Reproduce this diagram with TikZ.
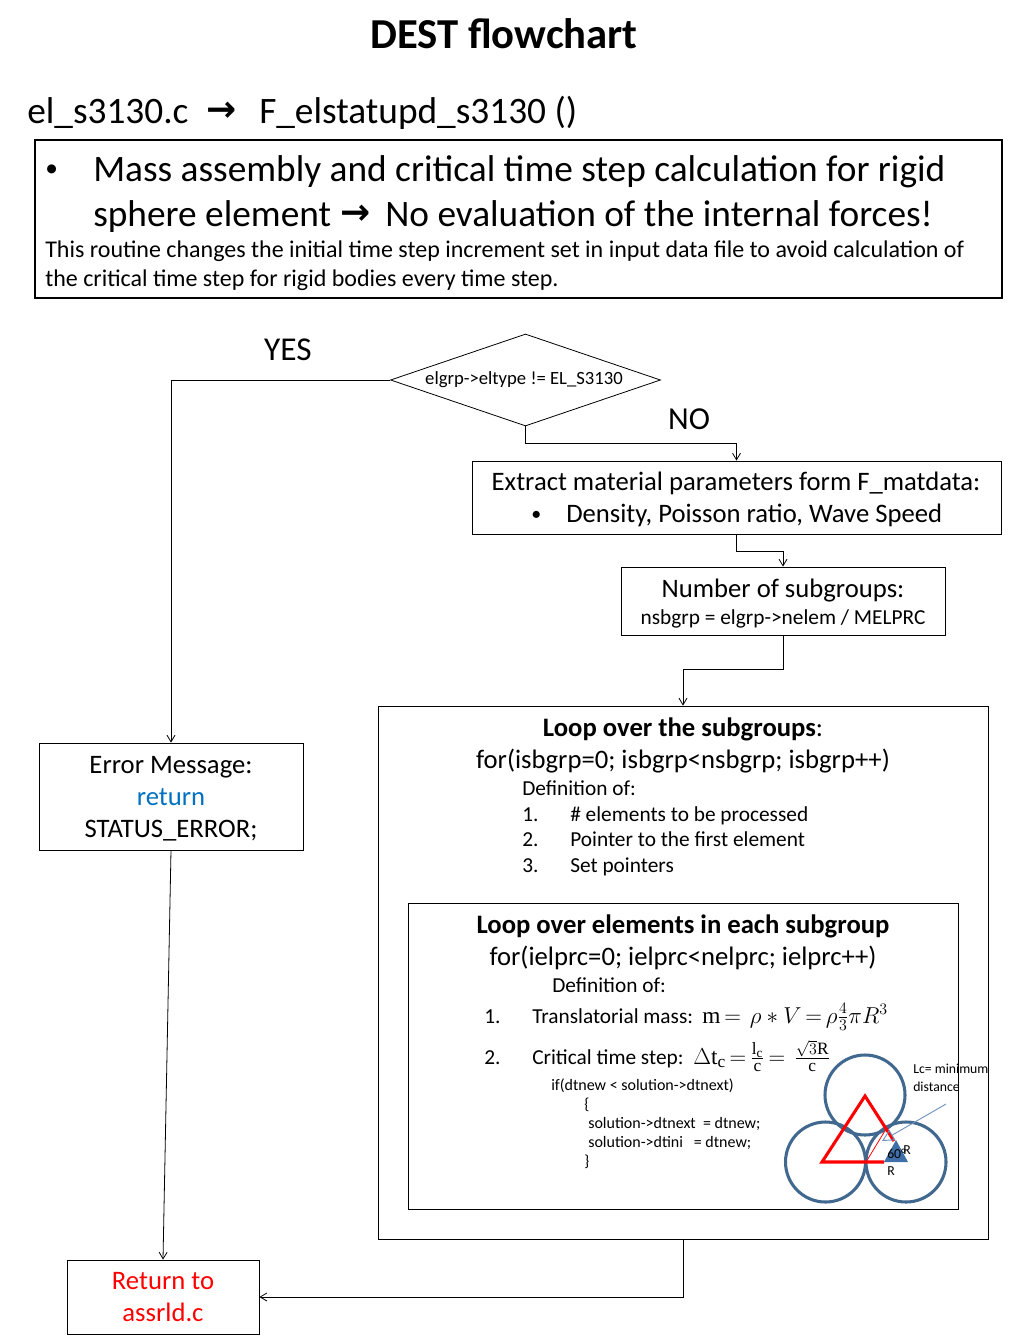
\documentclass[tikz,border=0pt]{standalone}
\usepackage{fontspec}
\setmainfont{Carlito}
\setmathrm{Liberation Serif}
\newfontfamily\symfont{DejaVu Sans}
\usetikzlibrary{arrows.meta, positioning, shapes.geometric}
\DeclareMathSizes{17.5}{17.5}{13}{10}

\definecolor{circleblue}{HTML}{41688F}
\definecolor{triblue}{HTML}{3F6FA8}
\definecolor{pointerblue}{HTML}{6F93BE}
\definecolor{returnblue}{HTML}{0070C0}

\newcommand{\fs}[1]{\fontsize{#1}{#1}\selectfont}

\tikzset{
  plainbox/.style={draw=black, line width=0.6pt, rectangle, inner sep=0pt, align=center},
  flow/.style={draw=black, line width=0.6pt, -{Straight Barb[length=5pt,width=6pt]}},
  txt/.style={inner sep=0pt, anchor=base west},
  ctxt/.style={inner sep=0pt, anchor=base},
  ring/.style={draw=circleblue, line width=2.3pt},
}

\begin{document}
\begin{tikzpicture}[x=0.75pt, y=-0.75pt]
\useasboundingbox (0,0) rectangle (1008,1344);

% heading
\node[ctxt] (title) at (504,48.5) {\fs{32}\bfseries DEST flowchart};
\node[txt] (file) at (27,123.5) {\fs{28}el\_s3130.c};
\node[txt] (filearrow) at (206,122) {\fs{27}\symfont\bfseries →};
\node[txt] (func) at (259,123.5) {\fs{28}F\_elstatupd\_s3130 ()};

% description box
\node[draw=black, line width=1.9pt, minimum width=725.25pt, minimum height=118.5pt, inner sep=0pt] (descbox) at (518.5,219) {};
\node[txt] (bullet) at (45,177) {\fs{19}•};
\node[txt] (desca) at (93,181.5) {\fs{28}Mass assembly and critical time step calculation for rigid};
\node[txt] (descb) at (93,226.5) {\fs{28}sphere element};
\node[txt] (descarrow) at (340,225) {\fs{27}\symfont\bfseries →};
\node[txt] (descc) at (385,226.5) {\fs{28}No evaluation of the internal forces!};
\node[txt] (descd) at (45,257.5) {\fs{18}This routine changes the initial time step increment set in input data file to avoid calculation of};
\node[txt] (desce) at (45,286.5) {\fs{18}the critical time step for rigid bodies every time step.};

% decision
\node[draw=black, line width=0.6pt, diamond, aspect=2.93, inner sep=0pt, minimum width=202.5pt, minimum height=69pt] (eltype) at (525.5,380) {};
\node[ctxt] (eltypetxt) at (524,384) {\fs{14}elgrp->eltype != EL\_S3130};
\node[ctxt] (yes) at (288,360) {\fs{25}YES};
\node[ctxt] (no) at (689,429) {\fs{24}NO};

% material parameters
\node[plainbox, minimum width=396.75pt, minimum height=54.75pt] (matdata) at (736.5,497.5) {};
\node[ctxt] (matdataa) at (736,490) {\fs{20}Extract material parameters form F\_matdata:};
\node[txt] (matdatab) at (531,520) {\fs{15}•};
\node[txt] (matdatac) at (566,522) {\fs{20}Density, Poisson ratio, Wave Speed};

% subgroups
\node[plainbox, minimum width=243pt, minimum height=51pt] (subgroups) at (783,601) {};
\node[ctxt] (subgroupsa) at (783,597) {\fs{20}Number of subgroups:};
\node[ctxt] (subgroupsb) at (783,624) {\fs{16}nsbgrp = elgrp->nelem / MELPRC};

% loop over the subgroups
\node[plainbox, minimum width=457.5pt, minimum height=399.75pt] (loopsub) at (683,972.5) {};
\node[ctxt] (loopsuba) at (683,736) {\fs{20}\textbf{Loop over the subgroups}:};
\node[ctxt] (loopsubb) at (683,768) {\fs{20}for(isbgrp=0; isbgrp<nsbgrp; isbgrp++)};
\node[txt] (loopsubc) at (522,795) {\fs{16}Definition of:};
\foreach \num/\ypos/\lbl in {1/821/\# elements to be processed, 2/846/Pointer to the first element, 3/872/Set pointers}{
  \node[txt] (subnum\num) at (522,\ypos) {\fs{16}\num.};
  \node[txt] (subitem\num) at (570,\ypos) {\fs{16}\lbl};
}

% loop over the elements
\node[plainbox, minimum width=412.5pt, minimum height=229.5pt] (loopel) at (683,1056) {};
\node[ctxt] (loopela) at (683,933) {\fs{20}\bfseries Loop over elements in each subgroup};
\node[ctxt] (loopelb) at (683,965) {\fs{20}for(ielprc=0; ielprc<nelprc; ielprc++)};
\node[txt] (loopelc) at (552,992) {\fs{16}Definition of:};
\node[txt] (elnuma) at (484,1023) {\fs{16}1.};
\node[txt] (elitema) at (532,1023) {\fs{16}Translatorial mass:};
\node[txt] (elmatha) at (702,1023) {\fs{17.5}\thickmuskip=3mu $\mathrm{m}=\ \rho*V=\rho\frac{4}{3}\pi R^{3}$};
\node[txt] (elnumb) at (484,1064) {\fs{16}2.};
\node[txt] (elitemb) at (532,1064) {\fs{16}Critical time step:};
\node[txt] (elmathb) at (693,1064) {\fs{17.5}\thickmuskip=3mu $\Delta\mathrm{t_c}=\frac{\mathrm{l_c}}{\mathrm{c}}=\ \frac{\sqrt{3}\mathrm{R}}{\mathrm{c}}$};
\node[txt] (codea) at (551,1090) {\fs{12}if(dtnew < solution->dtnext)};
\node[txt] (codeb) at (584,1109) {\fs{12}\{};
\node[txt] (codec) at (588,1128) {\fs{12}solution->dtnext\ \ = dtnew;};
\node[txt] (coded) at (588,1147) {\fs{12}solution->dtini\ \ \ = dtnew;};
\node[txt] (codee) at (584,1166) {\fs{12}\}};

% spheres
\draw[ring] (865,1095) circle (40);
\draw[ring] (825.5,1162) circle (40);
\draw[ring] (906,1162) circle (40);
\fill[triblue] (884,1162) -- (908,1162) -- (896,1140) -- cycle;
\draw[red, line width=2.3pt, line join=miter] (884,1162) -- (822,1162) -- (865,1096) -- (894,1141);
\draw[red, line width=0.6pt] (866,1162) -- (886,1129);
\coordinate (pointerstart) at (946,1104);
\coordinate (pointerend) at (882,1141);
\draw[pointerblue, line width=0.7pt, -{Triangle[open,length=9pt,width=9pt]}] (pointerstart) -- (pointerend);
\node[txt] (lca) at (913,1073) {\fs{10.3}Lc= minimum};
\node[txt] (lcb) at (913,1091) {\fs{10.3}distance};
\node[txt] (angle) at (887,1158) {\fs{10.3}60°};
\node[txt] (radiusa) at (903,1154) {\fs{10.3}R};
\node[txt] (radiusb) at (887,1175) {\fs{10.3}R};

% error and return
\node[plainbox, minimum width=198pt, minimum height=80.25pt] (errmsg) at (171,796.5) {};
\node[ctxt] (errmsga) at (171,773) {\fs{20}Error Message:};
\node[ctxt] (errmsgb) at (171,805) {\fs{20}\textcolor{returnblue}{return}};
\node[ctxt] (errmsgc) at (171,837) {\fs{20}STATUS\_ERROR;};
\node[plainbox, minimum width=144pt, minimum height=55.5pt] (retbox) at (163,1297) {};
\node[ctxt] (retboxa) at (163,1289) {\fs{20}\textcolor{red}{Return to}};
\node[ctxt] (retboxb) at (163,1321) {\fs{20}\textcolor{red}{assrld.c}};

% connectors
\draw[flow] (eltype.west) -| (errmsg.north);
\draw[flow] (eltype.south) -- ++(0,17) -| (matdata.north);
\draw[flow] (matdata.south) -- ++(0,17) -| (subgroups.north);
\draw[flow] (subgroups.south) -- ++(0,34) -| (loopsub.north);
\draw[flow] (errmsg.south) -- (retbox.north);
\draw[flow] (loopsub.south) |- (retbox.east);
\end{tikzpicture}
\end{document}
